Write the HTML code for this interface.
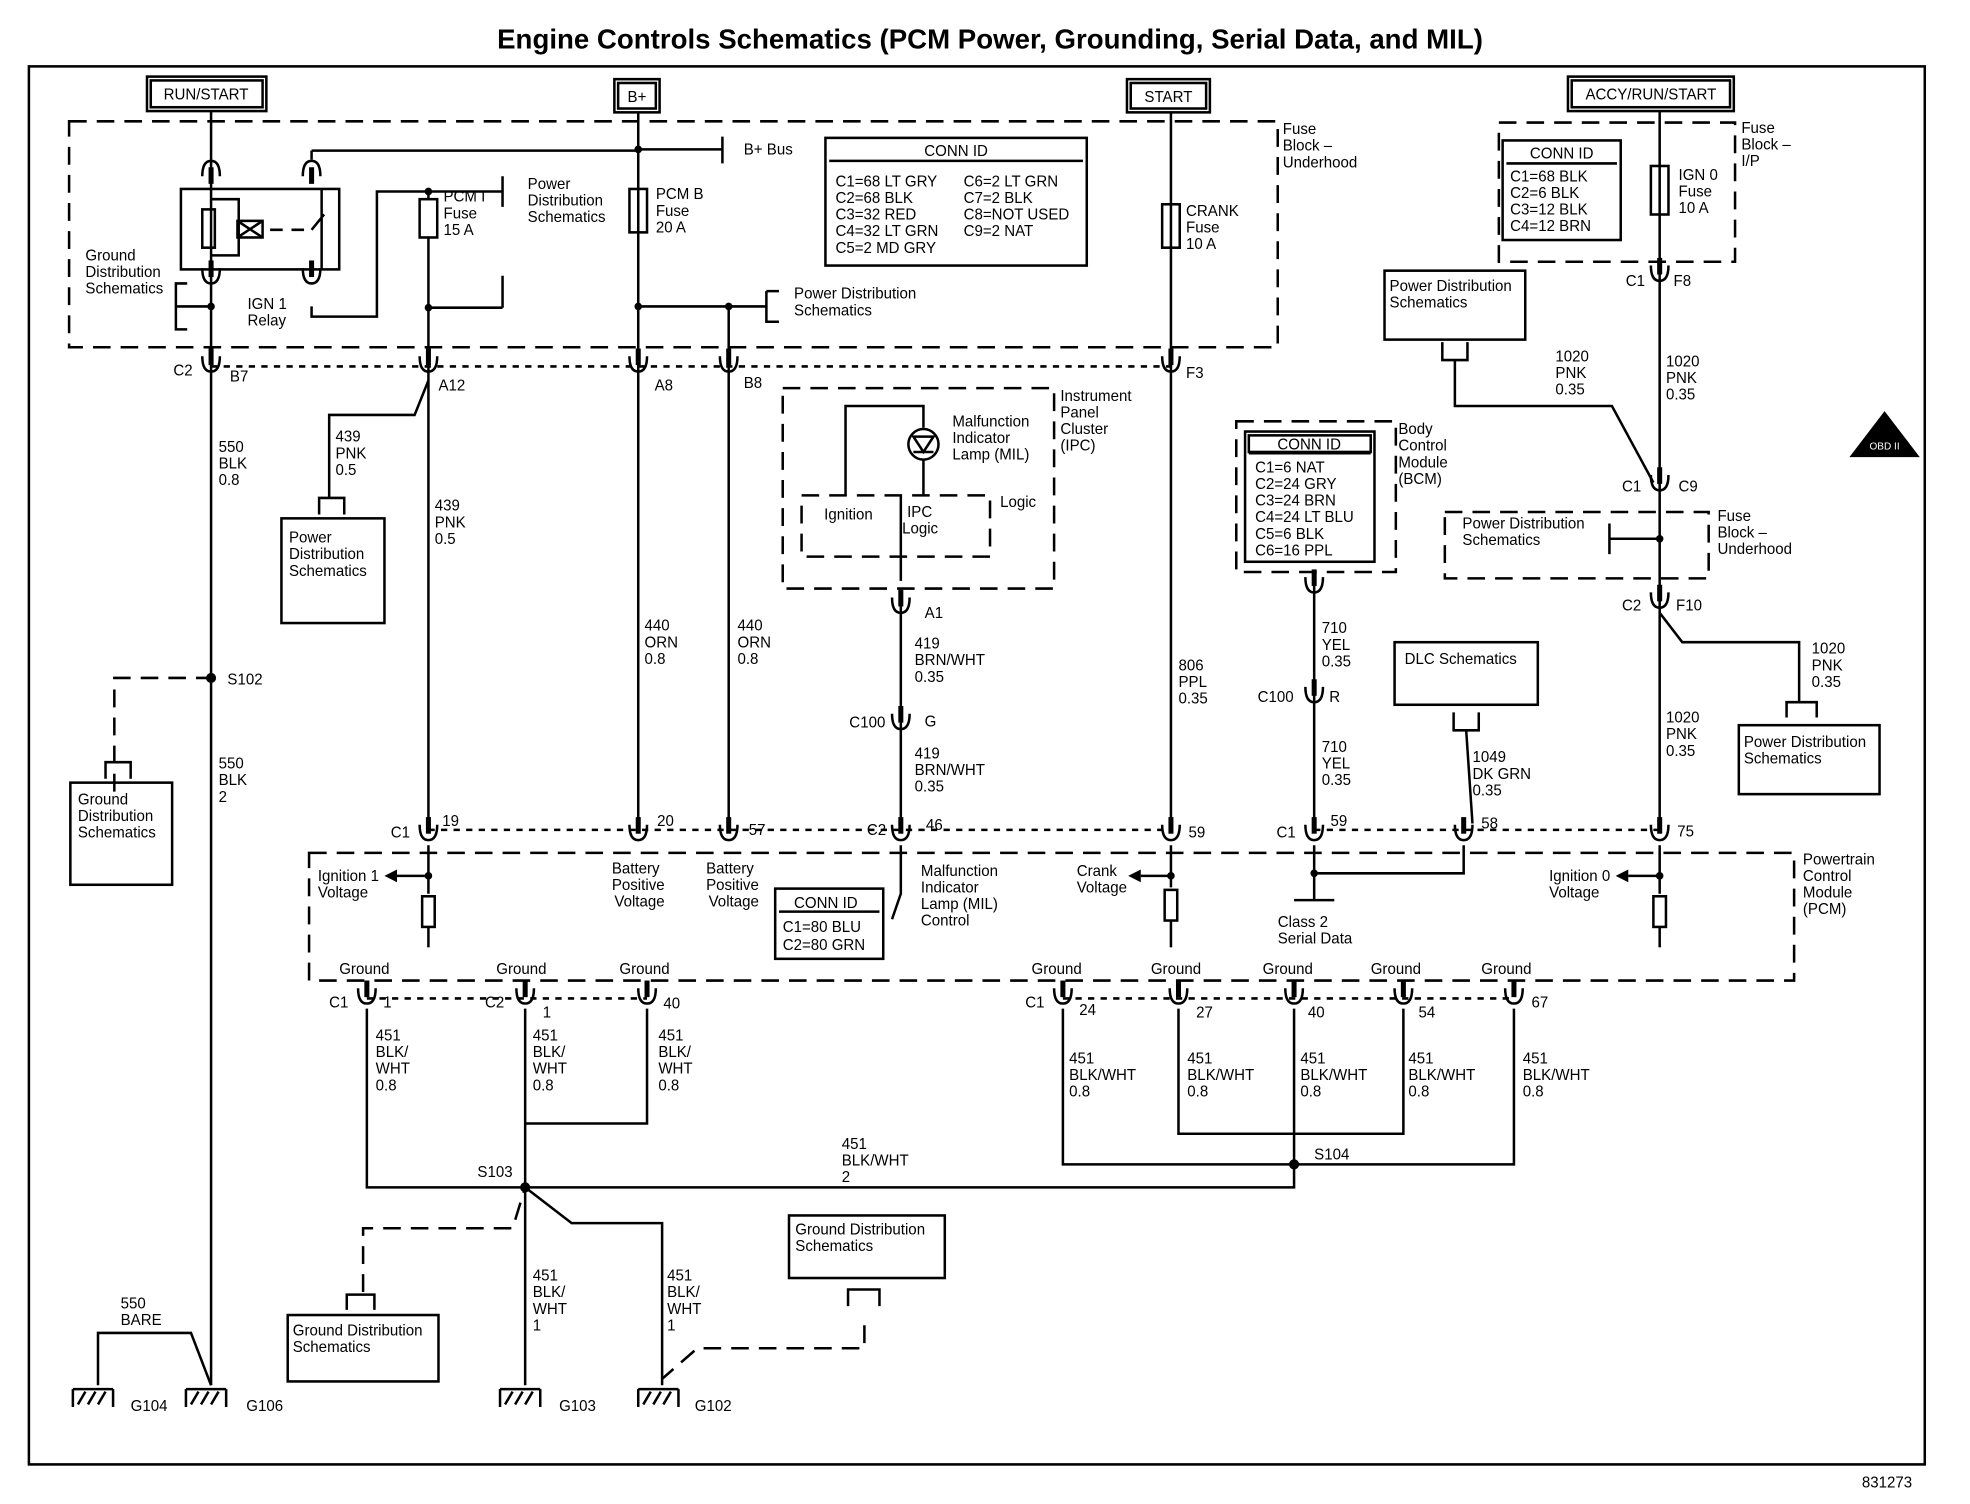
<!DOCTYPE html>
<html><head><meta charset="utf-8"><style>
html,body{margin:0;padding:0;background:#fff}
svg{display:block}
text{font-family:"Liberation Sans",Arial,sans-serif;font-size:12px;fill:#000}
</style></head><body>
<svg width="1970" height="1504" viewBox="0 0 1568 1178" preserveAspectRatio="none" xmlns="http://www.w3.org/2000/svg">
<defs>
<g id="cn"><line x1="0" y1="-14" x2="0" y2="-1" stroke="#000" stroke-width="4"/><path d="M-7 -8 Q-7 4 0 4 Q7 4 7 -8" fill="none" stroke="#000" stroke-width="2"/></g>
<g id="cu"><line x1="0" y1="14" x2="0" y2="1" stroke="#000" stroke-width="4"/><path d="M-7 8 Q-7 -4 0 -4 Q7 -4 7 8" fill="none" stroke="#000" stroke-width="2"/></g>
<g id="gnd"><line x1="-12" y1="0" x2="20" y2="0" stroke="#000" stroke-width="2"/><line x1="-12" y1="0" x2="-12" y2="14" stroke="#000" stroke-width="2"/><line x1="20" y1="0" x2="20" y2="14" stroke="#000" stroke-width="2"/><path d="M-8 12 L-2 2 M0 12 L6 2 M8 12 L14 2" stroke="#000" stroke-width="2"/></g>
</defs>
<g fill="none" stroke="#000" stroke-width="2">
<rect x="23" y="52" width="1509" height="1095"/>
<rect x="117" y="60" width="95" height="27"/><rect x="120" y="63" width="89" height="21"/>
<rect x="489" y="62" width="36" height="26"/><rect x="492" y="65" width="30" height="20"/>
<rect x="897" y="62" width="66" height="26"/><rect x="900" y="65" width="60" height="20"/>
<rect x="1248" y="60" width="132" height="27"/><rect x="1251" y="63" width="126" height="21"/>
<g stroke-dasharray="14 8">
<rect x="55" y="95" width="962" height="177"/>
<rect x="1193" y="96" width="188" height="109"/>
<rect x="623" y="304" width="216" height="157"/>
<rect x="638" y="388" width="150" height="48"/>
<rect x="984" y="330" width="127" height="118"/>
<rect x="1150" y="401" width="210" height="52"/>
<rect x="246" y="668" width="1182" height="100"/>
<path d="M91 620 V531 H168"/>
<path d="M289 1012 V962 H408 L418 930"/>
<path d="M688 1038 V1056 H555 L527 1080"/>
</g>
<g stroke-dasharray="5 5">
<path d="M168 287 H932"/><path d="M341 650 H932"/><path d="M1046 650 H1321"/><path d="M292 782 H515"/><path d="M846 782 H1205"/>
</g>
<path d="M168 87 V1085"/><path d="M508 88 V650"/><path d="M932 88 V650"/><path d="M1321 87 V650"/>
<path d="M341 150 V650"/><path d="M580 240 V650"/>
<rect x="144" y="148" width="126" height="63"/>
<rect x="161" y="164" width="10" height="30"/><path d="M168 156 H190 V200 H168"/>
<rect x="189" y="173" width="20" height="13"/><path d="M189 173 L209 186 M209 173 L189 186 M215 180 H225 M232 180 H242 M248 180 L258 168 M256 148 V211"/>
<path d="M248 118 H508 M248 118 V125"/><path d="M248 240 V248 H300 V150 H400"/><path d="M341 241 H400"/>
<path d="M400 138 V162 M400 216 V241"/><path d="M575 107 V128 M575 117 H508"/>
<path d="M149 222 H140 V258 H149 M140 240 H168"/>
<rect x="334" y="156" width="14" height="30" fill="#fff"/><rect x="501" y="148" width="14" height="34"/><rect x="925" y="160" width="14" height="34"/><rect x="1314" y="130" width="14" height="38"/>
<path d="M508 240 H610 M610 228 V252 H620 M610 228 H620"/>
<path d="M341 298 L330 325 H262 V390"/><rect x="224" y="406" width="82" height="82"/><path d="M254 403 V390 H274 V403"/>
<rect x="56" y="613" width="81" height="80"/><path d="M84 610 V597 H104 V610"/>
<path d="M673 388 V318 H735 V335 M735 360 V388 M717 388 V455"/>
<circle cx="735" cy="348" r="12"/><path d="M727 342 H743 L735 354 Z M727 354 H743"/>
<path d="M717 462 V650"/>
<rect x="1102" y="212" width="112" height="54"/><path d="M1148 268 V282 H1168 V268 M1158 282 V318 H1283 L1316 378"/>
<path d="M1281 410 V434 M1281 422 H1321"/>
<path d="M1321 480 L1339 503 H1432 V550 M1422 562 V550 H1446 V562"/><rect x="1384" y="568" width="112" height="54"/>
<rect x="1110" y="503" width="114" height="49"/><path d="M1157 558 V572 H1177 V558 M1167 572 L1172 645"/>
<rect x="991" y="338" width="103" height="102"/><rect x="994" y="341" width="97" height="13"/><path d="M994 355 H1091"/>
<path d="M1046 448 V650"/>
<rect x="1196" y="110" width="94" height="78"/><path d="M1199 128 H1287"/>
<rect x="657" y="108" width="208" height="100"/><path d="M660 126 H862"/>
<rect x="617" y="696" width="86" height="55"/><path d="M620 714 H700"/>
<rect x="628" y="952" width="124" height="49"/>
<rect x="229" y="1030" width="120" height="52"/><path d="M276 1026 V1014 H298 V1026"/>
<path d="M675 1023 V1010 H700 V1023"/>
<path d="M341 662 V700 M341 686 H316"/><rect x="336" y="702" width="10" height="24"/><path d="M341 726 V742"/>
<path d="M932 662 V695 M932 686 H908"/><rect x="927" y="697" width="10" height="24"/><path d="M932 721 V742"/>
<path d="M1321 662 V700 M1321 686 H1296"/><rect x="1316" y="702" width="10" height="24"/><path d="M1321 726 V742"/>
<path d="M1046 662 V705 M1030 705 H1062 M1046 684 H1165 V662"/>
<path d="M717 662 V700 L710 720"/>
<path d="M292 790 V930 H1030 V790"/><path d="M418 790 V1085 M418 930 L455 958 H527 V1085"/><path d="M515 790 V880 H418"/>
<path d="M846 790 V912 H1205 V790 M938 790 V888 H1030 M1117 790 V888 H1030"/>
<path d="M78 1085 V1044 H152 L168 1085"/>
</g>
<g fill="#000">
<circle cx="168" cy="531" r="4"/><circle cx="418" cy="930" r="4"/><circle cx="1030" cy="912" r="4"/><circle cx="508" cy="240" r="3"/><circle cx="580" cy="240" r="3"/><circle cx="508" cy="117" r="3"/><circle cx="341" cy="150" r="3"/><circle cx="341" cy="241" r="3"/><circle cx="168" cy="240" r="3"/><circle cx="1321" cy="422" r="3"/><circle cx="932" cy="686" r="3"/><circle cx="341" cy="686" r="3"/><circle cx="1321" cy="686" r="3"/><circle cx="1046" cy="684" r="3"/>
<path d="M316 681 L306 686 L316 691Z M908 681 L898 686 L908 691Z M1296 681 L1286 686 L1296 691Z"/>
<path d="M1500 322 L1528 358 H1472 Z"/>
</g>
<use href="#cu" x="168" y="130"/><use href="#cu" x="248" y="130"/><use href="#cn" x="168" y="218"/><use href="#cn" x="248" y="218"/>
<use href="#cn" x="168" y="287"/><use href="#cn" x="341" y="287"/><use href="#cn" x="508" y="287"/><use href="#cn" x="580" y="287"/><use href="#cn" x="932" y="287"/>
<use href="#cn" x="1321" y="216"/><use href="#cn" x="1321" y="380"/><use href="#cn" x="1321" y="472"/>
<use href="#cn" x="717" y="476"/><use href="#cn" x="717" y="567"/><use href="#cn" x="1046" y="460"/><use href="#cn" x="1046" y="546"/>
<use href="#cn" x="341" y="654"/><use href="#cn" x="508" y="654"/><use href="#cn" x="580" y="654"/><use href="#cn" x="717" y="654"/><use href="#cn" x="932" y="654"/><use href="#cn" x="1046" y="654"/><use href="#cn" x="1165" y="654"/><use href="#cn" x="1321" y="654"/>
<use href="#cn" x="292" y="782"/><use href="#cn" x="418" y="782"/><use href="#cn" x="515" y="782"/><use href="#cn" x="846" y="782"/><use href="#cn" x="938" y="782"/><use href="#cn" x="1030" y="782"/><use href="#cn" x="1117" y="782"/><use href="#cn" x="1205" y="782"/>
<use href="#gnd" x="70" y="1088"/><use href="#gnd" x="160" y="1088"/><use href="#gnd" x="410" y="1088"/><use href="#gnd" x="520" y="1088"/>
<text x="788" y="38" text-anchor="middle" style="font-size:22px;font-weight:bold">Engine Controls Schematics (PCM Power, Grounding, Serial Data, and MIL)</text>
<g style="font-size:12px">
<text x="164" y="78" text-anchor="middle">RUN/START</text><text x="507" y="80" text-anchor="middle">B+</text><text x="930" y="80" text-anchor="middle">START</text><text x="1314" y="78" text-anchor="middle">ACCY/RUN/START</text>
<text x="1522" y="1165" text-anchor="end">831273</text>
<text x="592" y="121">B+ Bus</text>
<text x="1021" y="105">Fuse</text><text x="1021" y="118">Block –</text><text x="1021" y="131">Underhood</text>
<text x="1386" y="104">Fuse</text><text x="1386" y="117">Block –</text><text x="1386" y="130">I/P</text>
<text x="68" y="204">Ground</text><text x="68" y="217">Distribution</text><text x="68" y="230">Schematics</text>
<text x="197" y="242">IGN 1</text><text x="197" y="255">Relay</text>
<text x="353" y="158">PCM I</text><text x="353" y="171">Fuse</text><text x="353" y="184">15 A</text>
<text x="420" y="148">Power</text><text x="420" y="161">Distribution</text><text x="420" y="174">Schematics</text>
<text x="522" y="156">PCM B</text><text x="522" y="169">Fuse</text><text x="522" y="182">20 A</text>
<text x="632" y="234">Power Distribution</text><text x="632" y="247">Schematics</text>
<text x="944" y="169">CRANK</text><text x="944" y="182">Fuse</text><text x="944" y="195">10 A</text>
<text x="1336" y="141">IGN 0</text><text x="1336" y="154">Fuse</text><text x="1336" y="167">10 A</text>
<text x="761" y="122" text-anchor="middle">CONN ID</text>
<text x="665" y="146">C1=68 LT GRY</text><text x="665" y="159">C2=68 BLK</text><text x="665" y="172">C3=32 RED</text><text x="665" y="185">C4=32 LT GRN</text><text x="665" y="198">C5=2 MD GRY</text>
<text x="767" y="146">C6=2 LT GRN</text><text x="767" y="159">C7=2 BLK</text><text x="767" y="172">C8=NOT USED</text><text x="767" y="185">C9=2 NAT</text>
<text x="1243" y="124" text-anchor="middle">CONN ID</text>
<text x="1202" y="142">C1=68 BLK</text><text x="1202" y="155">C2=6 BLK</text><text x="1202" y="168">C3=12 BLK</text><text x="1202" y="181">C4=12 BRN</text>
<text x="1042" y="352" text-anchor="middle">CONN ID</text>
<text x="999" y="370">C1=6 NAT</text><text x="999" y="383">C2=24 GRY</text><text x="999" y="396">C3=24 BRN</text><text x="999" y="409">C4=24 LT BLU</text><text x="999" y="422">C5=6 BLK</text><text x="999" y="435">C6=16 PPL</text>
<text x="1113" y="340">Body</text><text x="1113" y="353">Control</text><text x="1113" y="366">Module</text><text x="1113" y="379">(BCM)</text>
<text x="1106" y="228">Power Distribution</text><text x="1106" y="241">Schematics</text>
<text x="1294" y="224">C1</text><text x="1332" y="224">F8</text>
<text x="1238" y="283">1020</text><text x="1238" y="296">PNK</text><text x="1238" y="309">0.35</text>
<text x="1326" y="287">1020</text><text x="1326" y="300">PNK</text><text x="1326" y="313">0.35</text>
<text x="1291" y="385">C1</text><text x="1336" y="385">C9</text>
<text x="1164" y="414">Power Distribution</text><text x="1164" y="427">Schematics</text>
<text x="1367" y="408">Fuse</text><text x="1367" y="421">Block –</text><text x="1367" y="434">Underhood</text>
<text x="1291" y="478">C2</text><text x="1334" y="478">F10</text>
<text x="1442" y="512">1020</text><text x="1442" y="525">PNK</text><text x="1442" y="538">0.35</text>
<text x="1388" y="585">Power Distribution</text><text x="1388" y="598">Schematics</text>
<text x="1326" y="566">1020</text><text x="1326" y="579">PNK</text><text x="1326" y="592">0.35</text>
<text x="1118" y="520">DLC Schematics</text>
<text x="1172" y="597">1049</text><text x="1172" y="610">DK GRN</text><text x="1172" y="623">0.35</text>
<text x="1052" y="496">710</text><text x="1052" y="509">YEL</text><text x="1052" y="522">0.35</text>
<text x="1001" y="550">C100</text><text x="1058" y="550">R</text>
<text x="1052" y="589">710</text><text x="1052" y="602">YEL</text><text x="1052" y="615">0.35</text>
<text x="938" y="525">806</text><text x="938" y="538">PPL</text><text x="938" y="551">0.35</text>
<text x="844" y="314">Instrument</text><text x="844" y="327">Panel</text><text x="844" y="340">Cluster</text><text x="844" y="353">(IPC)</text>
<text x="758" y="334">Malfunction</text><text x="758" y="347">Indicator</text><text x="758" y="360">Lamp (MIL)</text>
<text x="656" y="407">Ignition</text><text x="722" y="405">IPC</text><text x="718" y="418">Logic</text><text x="796" y="397">Logic</text>
<text x="736" y="484">A1</text>
<text x="728" y="508">419</text><text x="728" y="521">BRN/WHT</text><text x="728" y="534">0.35</text>
<text x="676" y="570">C100</text><text x="736" y="569">G</text>
<text x="728" y="594">419</text><text x="728" y="607">BRN/WHT</text><text x="728" y="620">0.35</text>
<text x="138" y="294">C2</text><text x="183" y="299">B7</text><text x="349" y="306">A12</text><text x="521" y="306">A8</text><text x="592" y="304">B8</text><text x="944" y="296">F3</text>
<text x="267" y="346">439</text><text x="267" y="359">PNK</text><text x="267" y="372">0.5</text>
<text x="230" y="425">Power</text><text x="230" y="438">Distribution</text><text x="230" y="451">Schematics</text>
<text x="346" y="400">439</text><text x="346" y="413">PNK</text><text x="346" y="426">0.5</text>
<text x="174" y="354">550</text><text x="174" y="367">BLK</text><text x="174" y="380">0.8</text>
<text x="181" y="536">S102</text>
<text x="174" y="602">550</text><text x="174" y="615">BLK</text><text x="174" y="628">2</text>
<text x="62" y="630">Ground</text><text x="62" y="643">Distribution</text><text x="62" y="656">Schematics</text>
<text x="513" y="494">440</text><text x="513" y="507">ORN</text><text x="513" y="520">0.8</text>
<text x="587" y="494">440</text><text x="587" y="507">ORN</text><text x="587" y="520">0.8</text>
<text x="311" y="656">C1</text><text x="352" y="647">19</text><text x="523" y="647">20</text><text x="596" y="654">57</text><text x="690" y="654">C2</text><text x="737" y="650">46</text><text x="946" y="656">59</text><text x="1016" y="656">C1</text><text x="1059" y="647">59</text><text x="1179" y="649">58</text><text x="1335" y="655">75</text>
<text x="253" y="690">Ignition 1</text><text x="253" y="703">Voltage</text>
<text x="487" y="684">Battery</text><text x="487" y="697">Positive</text><text x="489" y="710">Voltage</text>
<text x="562" y="684">Battery</text><text x="562" y="697">Positive</text><text x="564" y="710">Voltage</text>
<text x="632" y="711">CONN ID</text><text x="623" y="730">C1=80 BLU</text><text x="623" y="744">C2=80 GRN</text>
<text x="733" y="686">Malfunction</text><text x="733" y="699">Indicator</text><text x="733" y="712">Lamp (MIL)</text><text x="733" y="725">Control</text>
<text x="857" y="686">Crank</text><text x="857" y="699">Voltage</text>
<text x="1017" y="726">Class 2</text><text x="1017" y="739">Serial Data</text>
<text x="1233" y="690">Ignition 0</text><text x="1233" y="703">Voltage</text>
<text x="1435" y="677">Powertrain</text><text x="1435" y="690">Control</text><text x="1435" y="703">Module</text><text x="1435" y="716">(PCM)</text>
<text x="270" y="763">Ground</text><text x="395" y="763">Ground</text><text x="493" y="763">Ground</text><text x="821" y="763">Ground</text><text x="916" y="763">Ground</text><text x="1005" y="763">Ground</text><text x="1091" y="763">Ground</text><text x="1179" y="763">Ground</text>
<text x="262" y="789">C1</text><text x="305" y="789">1</text><text x="386" y="789">C2</text><text x="432" y="797">1</text><text x="528" y="790">40</text>
<text x="816" y="789">C1</text><text x="859" y="795">24</text><text x="952" y="797">27</text><text x="1041" y="797">40</text><text x="1129" y="797">54</text><text x="1219" y="789">67</text>
<text x="299" y="815">451</text><text x="299" y="828">BLK/</text><text x="299" y="841">WHT</text><text x="299" y="854">0.8</text>
<text x="424" y="815">451</text><text x="424" y="828">BLK/</text><text x="424" y="841">WHT</text><text x="424" y="854">0.8</text>
<text x="524" y="815">451</text><text x="524" y="828">BLK/</text><text x="524" y="841">WHT</text><text x="524" y="854">0.8</text>
<text x="851" y="833">451</text><text x="851" y="846">BLK/WHT</text><text x="851" y="859">0.8</text>
<text x="945" y="833">451</text><text x="945" y="846">BLK/WHT</text><text x="945" y="859">0.8</text>
<text x="1035" y="833">451</text><text x="1035" y="846">BLK/WHT</text><text x="1035" y="859">0.8</text>
<text x="1121" y="833">451</text><text x="1121" y="846">BLK/WHT</text><text x="1121" y="859">0.8</text>
<text x="1212" y="833">451</text><text x="1212" y="846">BLK/WHT</text><text x="1212" y="859">0.8</text>
<text x="670" y="900">451</text><text x="670" y="913">BLK/WHT</text><text x="670" y="926">2</text>
<text x="1046" y="908">S104</text><text x="380" y="922">S103</text>
<text x="633" y="967">Ground Distribution</text><text x="633" y="980">Schematics</text>
<text x="233" y="1046">Ground Distribution</text><text x="233" y="1059">Schematics</text>
<text x="424" y="1003">451</text><text x="424" y="1016">BLK/</text><text x="424" y="1029">WHT</text><text x="424" y="1042">1</text>
<text x="531" y="1003">451</text><text x="531" y="1016">BLK/</text><text x="531" y="1029">WHT</text><text x="531" y="1042">1</text>
<text x="96" y="1025">550</text><text x="96" y="1038">BARE</text>
<text x="104" y="1105">G104</text><text x="196" y="1105">G106</text><text x="445" y="1105">G103</text><text x="553" y="1105">G102</text>
<text x="1500" y="352" text-anchor="middle" style="font-size:8px;fill:#fff">OBD II</text>
</g>
</svg>
</body></html>
